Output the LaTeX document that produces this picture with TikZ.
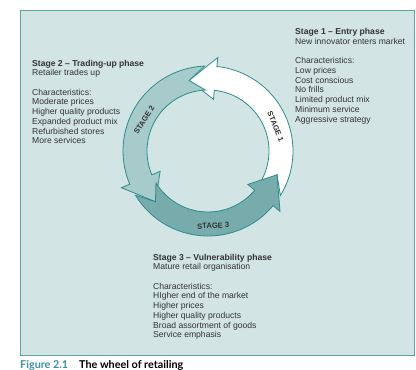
\documentclass[tikz,border=0pt]{standalone}
\usepackage{fontspec}
\setmainfont{Liberation Sans}
\newfontfamily\capfont{Lato}
\definecolor{panel}{RGB}{211,228,228}
\definecolor{rim}{RGB}{95,164,164}
\definecolor{edge}{RGB}{45,140,140}
\definecolor{lite}{RGB}{166,203,202}
\definecolor{dark}{RGB}{120,172,172}
\definecolor{ink}{RGB}{51,51,51}
\definecolor{figteal}{RGB}{61,143,160}

\begin{document}
\begin{tikzpicture}[x=1pt,y=1pt,
  blk/.style={anchor=north west,inner sep=0pt,align=left,text=ink,
              font=\fontsize{8.6}{9.7}\selectfont},
  arw/.style={draw=edge,line width=0.8pt,line join=miter},
  lbl/.style={inner sep=0pt,text=ink,font=\fontsize{7.6}{9}\selectfont\bfseries},
  capt/.style={anchor=base west,inner sep=0pt,font=\capfont\bfseries\fontsize{10.8}{12}\selectfont}
]
\useasboundingbox (0,0) rectangle (416,370);
\draw[rim,fill=panel,line width=1pt] (20,14) rectangle (414,359);

% the wheel
\begin{scope}[shift={(208,219)}]
\filldraw[arw,fill=white] (-31.6:85) arc[start angle=-31.6,end angle=84,radius=85]
  -- (84:94) -- (105:73) -- (84:52) -- (84:61)
  arc[start angle=84,end angle=-31.6,radius=61] -- (-19:73) -- cycle;
\filldraw[arw,fill=lite] (92.4:85) arc[start angle=92.4,end angle=203,radius=85]
  -- (203:94) -- (224:73) -- (203:52) -- (203:61)
  arc[start angle=203,end angle=92.4,radius=61] -- (105:73) -- cycle;
\filldraw[arw,fill=dark] (211.4:85) arc[start angle=211.4,end angle=320,radius=85]
  -- (320:94) -- (341:73) -- (320:52) -- (320:61)
  arc[start angle=320,end angle=211.4,radius=61] -- (224:73) -- cycle;

\node[lbl,rotate=-68] (s1) at (20:72) {STAGE 1};
\node[lbl,rotate=58] (s2) at (154:71) {STAGE 2};
\node[lbl,rotate=3] (s3) at (-86:75) {STAGE 3};
\end{scope}

% stage texts
\node[blk] (st1) at (295,341.7) {\textbf{Stage 1 -- Entry phase}\\
  New innovator enters market\\[9.7pt]
  Characteristics:\\ Low prices\\ Cost conscious\\ No frills\\
  Limited product mix\\ Minimum service\\ Aggressive strategy};
\node[blk] (st2) at (32,310.3) {\textbf{Stage 2 -- Trading-up phase}\\
  Retailer trades up\\[9.7pt]
  Characteristics:\\ Moderate prices\\ Higher quality products\\
  Expanded product mix\\ Refurbished stores\\ More services};
\node[blk] (st3) at (153,116.3) {\textbf{Stage 3 -- Vulnerability phase}\\
  Mature retail organisation\\[9.7pt]
  Characteristics:\\ HIgher end of the market\\ Higher prices\\
  Higher quality products\\ Broad assortment of goods\\ Service emphasis};

% caption
\node[capt,text=figteal] (fig) at (20,1.5) {Figure 2.1};
\node[capt] (ttl) at (79,1.5) {The wheel of retailing};
\end{tikzpicture}
\end{document}
